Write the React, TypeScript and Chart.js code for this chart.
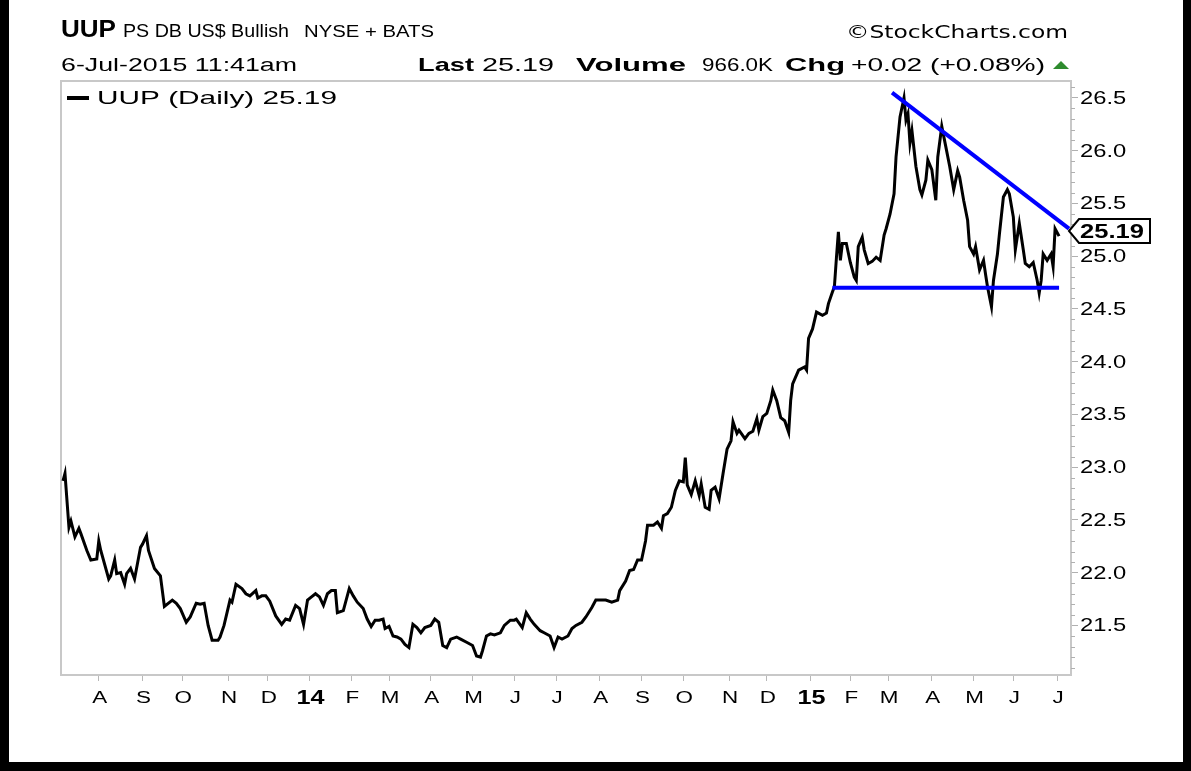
import React, { useEffect, useRef } from "react";
import { Chart, registerables } from "chart.js";

Chart.register(...registerables);

// trading-day index (0 = 1 Aug 2013) and closing price
const dayIdx = [
  -18, -17, -15, -14, -12, -10, -9, -6, -4, -1, 0, 1, 5, 6, 8, 9, 11, 13, 14, 16, 18, 21, 22, 24, 25, 28, 31, 33, 37, 39,
  41, 44, 46, 49, 51, 53, 55, 57, 60, 61, 63, 66, 67, 69, 72, 74, 76, 79, 80, 82, 84, 86, 89, 92, 94, 96, 99, 101, 103, 105,
  107, 109, 111, 113, 115, 117, 119, 120, 123, 126, 128, 130, 133, 135, 137, 139, 141, 143, 144, 146, 148, 150, 152, 154, 156, 158, 160, 162, 164, 167,
  169, 171, 173, 175, 177, 180, 182, 185, 188, 190, 192, 193, 195, 197, 199, 202, 204, 207, 209, 210, 213, 215, 217, 219, 222, 224, 227, 229, 231, 233,
  236, 238, 240, 243, 245, 248, 250, 253, 255, 258, 261, 262, 265, 267, 269, 271, 273, 275, 276, 279, 281, 283, 284, 286, 288, 290, 292, 294, 295, 296,
  298, 300, 302, 303, 305, 307, 308, 310, 312, 314, 316, 318, 319, 321, 322, 325, 327, 329, 331, 332, 334, 336, 338, 339, 341, 343, 345, 347, 348, 349,
  352, 355, 356, 357, 359, 361, 364, 366, 367, 369, 370, 371, 372, 373, 374, 376, 378, 380, 381, 382, 384, 385, 387, 389, 391, 393, 395, 396, 398, 400,
  401, 403, 405, 406, 407, 408, 409, 411, 413, 414, 416, 417, 419, 421, 422, 424, 426, 428, 430, 432, 433, 435, 437, 438, 440, 441, 443, 445, 446, 447,
  449, 450, 452, 453, 455, 457, 458, 460, 461, 463, 465, 466, 468, 470, 472, 473, 474, 475, 477, 479, 480, 481, 483,
];
const closePrices = [
  22.87, 22.94, 22.43, 22.49, 22.34, 22.42, 22.37, 22.21, 22.12, 22.13, 22.3, 22.21, 21.94, 21.97, 22.12, 21.99, 22.0, 21.89, 21.99, 22.04, 21.94, 22.24, 22.27, 22.35, 22.21, 22.04, 21.97, 21.68, 21.74, 21.71,
  21.66, 21.53, 21.58, 21.71, 21.7, 21.71, 21.5, 21.36, 21.36, 21.39, 21.5, 21.74, 21.72, 21.89, 21.85, 21.8, 21.78, 21.83, 21.76, 21.78, 21.78, 21.73, 21.59, 21.51, 21.56, 21.55, 21.69, 21.66, 21.51, 21.74,
  21.77, 21.8, 21.77, 21.69, 21.8, 21.83, 21.83, 21.62, 21.64, 21.85, 21.78, 21.72, 21.66, 21.56, 21.49, 21.55, 21.55, 21.56, 21.47, 21.49, 21.4, 21.39, 21.37, 21.32, 21.29, 21.51, 21.48, 21.43, 21.48, 21.5,
  21.56, 21.53, 21.31, 21.29, 21.37, 21.39, 21.37, 21.34, 21.31, 21.21, 21.2, 21.26, 21.4, 21.42, 21.41, 21.43, 21.5, 21.55, 21.55, 21.56, 21.48, 21.62, 21.56, 21.51, 21.45, 21.43, 21.4, 21.29, 21.39, 21.37,
  21.4, 21.47, 21.5, 21.53, 21.58, 21.67, 21.74, 21.74, 21.74, 21.72, 21.74, 21.83, 21.92, 22.02, 22.03, 22.12, 22.12, 22.3, 22.45, 22.45, 22.48, 22.42, 22.54, 22.56, 22.62, 22.78, 22.87, 22.86, 23.09, 22.83,
  22.74, 22.87, 22.73, 22.84, 22.62, 22.6, 22.78, 22.81, 22.7, 22.94, 23.17, 23.25, 23.43, 23.32, 23.35, 23.27, 23.32, 23.34, 23.46, 23.35, 23.48, 23.51, 23.63, 23.73, 23.63, 23.47, 23.44, 23.33, 23.63, 23.79,
  23.92, 23.95, 23.92, 24.22, 24.31, 24.47, 24.44, 24.46, 24.55, 24.66, 24.71, 24.98, 25.23, 24.96, 25.12, 25.12, 24.94, 24.8, 24.77, 25.09, 25.18, 25.06, 24.93, 24.95, 24.99, 24.96, 25.2, 25.26, 25.4, 25.59,
  25.94, 26.32, 26.5, 26.29, 26.35, 26.07, 26.19, 25.85, 25.63, 25.58, 25.72, 25.91, 25.82, 25.53, 25.94, 26.23, 26.04, 25.85, 25.63, 25.81, 25.75, 25.53, 25.34, 25.09, 25.02, 25.09, 24.87, 24.96, 24.83, 24.71,
  24.52, 24.77, 25.02, 25.21, 25.56, 25.63, 25.59, 25.37, 25.06, 25.31, 25.06, 24.93, 24.9, 24.94, 24.77, 24.65, 24.77, 25.02, 24.96, 25.02, 24.9, 25.26, 25.19,
];

// trend lines drawn on the chart
const resistanceX = [399, 488];
const resistanceY = [26.55, 25.26];
const supportX = [369, 483];
const supportY = [24.7, 24.7];

// month ticks (trading-day index of month start) and their labels
const monthTickIdx = [0, 22, 42, 65, 85, 106, 127, 146, 167, 188, 209, 230, 252, 273, 294, 317, 336, 358, 378, 397, 419, 440, 460, 482];
const monthLabels = ["A", "S", "O", "N", "D", "14", "F", "M", "A", "M", "J", "J", "A", "S", "O", "N", "D", "15", "F", "M", "A", "M", "J", "J"];
const yearLabels = ["14", "15"];

const priceTicks = [21.5, 22.0, 22.5, 23.0, 23.5, 24.0, 24.5, 25.0, 25.5, 26.0, 26.5];

const symbol = "UUP";
const fundName = "PS DB US$ Bullish";
const exchange = "NYSE + BATS";
const timestamp = "6-Jul-2015 11:41am";
const lastPrice = "25.19";
const volume = "966.0K";
const change = "+0.02 (+0.08%)";
const legendText = "UUP (Daily) 25.19";
const credit = "\u00A9StockCharts.com";

const SANS = "'Liberation Sans', Arial, sans-serif";

// draws text horizontally stretched; width = explicit target width, or factor sx
function wideText(
  ctx: CanvasRenderingContext2D,
  text: string,
  font: string,
  x: number,
  y: number,
  opts: { w?: number; sx?: number; align?: "left" | "right" | "center" }
) {
  ctx.font = font;
  const nat = ctx.measureText(text).width;
  const s = opts.w ? opts.w / nat : opts.sx || 1;
  const full = nat * s;
  let left = x;
  if (opts.align === "right") left = x - full;
  else if (opts.align === "center") left = x - full / 2;
  ctx.save();
  ctx.translate(left, y);
  ctx.scale(s, 1);
  ctx.textAlign = "left";
  ctx.fillText(text, 0, 0);
  ctx.restore();
}

const decorPlugin = {
  id: "decor",
  beforeDraw(chart: any) {
    const ctx = chart.ctx;
    ctx.save();
    ctx.fillStyle = "#ffffff";
    ctx.fillRect(0, 0, chart.width, chart.height);
    ctx.restore();
  },
  beforeDatasetsDraw(chart: any) {
    const { ctx, chartArea } = chart;
    ctx.save();
    ctx.strokeStyle = "#c8c8c8";
    ctx.lineWidth = 2;
    ctx.strokeRect(chartArea.left, chartArea.top, chartArea.right - chartArea.left, chartArea.bottom - chartArea.top);
    ctx.restore();
  },
  afterDraw(chart: any) {
    const { ctx, chartArea } = chart;
    const yScale = chart.scales.y;
    const xScale = chart.scales.x;
    ctx.save();
    // minor ticks on the price axis
    ctx.strokeStyle = "#b0b0b0";
    ctx.lineWidth = 1;
    for (let k = 211; k <= 266; k++) {
      if (k % 5 === 0) continue;
      const py = Math.round(yScale.getPixelForValue(k / 10)) + 0.5;
      ctx.beginPath();
      ctx.moveTo(chartArea.right, py);
      ctx.lineTo(chartArea.right + 4, py);
      ctx.stroke();
    }

    ctx.fillStyle = "#000";
    // price axis labels
    ctx.textBaseline = "middle";
    for (const v of priceTicks) {
      const py = yScale.getPixelForValue(v);
      wideText(ctx, v.toFixed(1), "18px " + SANS, chartArea.right + 9, py + 1, { sx: 1.32 });
    }
    // month labels
    ctx.textBaseline = "alphabetic";
    monthTickIdx.forEach((d, i) => {
      const px = xScale.getPixelForValue(d);
      const lbl = monthLabels[i];
      if (yearLabels.includes(lbl)) {
        wideText(ctx, lbl, "bold 21px " + SANS, px + 1, 704, { sx: 1.2, align: "center" });
      } else {
        wideText(ctx, lbl, "16px " + SANS, px + 1, 703, { sx: 1.4, align: "center" });
      }
    });

    // legend
    ctx.fillRect(chartArea.left + 6, 96, 22, 4);
    ctx.textBaseline = "middle";
    wideText(ctx, legendText, "19px " + SANS, chartArea.left + 36, 99, { w: 240 });

    // header row 1
    ctx.textBaseline = "alphabetic";
    wideText(ctx, symbol, "bold 23px " + SANS, 61, 37, { w: 55 });
    wideText(ctx, fundName, "18px " + SANS, 123, 37, { w: 166 });
    wideText(ctx, exchange, "16px " + SANS, 304, 37, { w: 130 });
    wideText(ctx, credit, "18px 'DejaVu Sans', sans-serif", 1068, 38, { w: 222, align: "right" });

    // header row 2
    wideText(ctx, timestamp, "18px " + SANS, 61, 71, { w: 236 });
    wideText(ctx, "Last", "bold 19px " + SANS, 418, 71, { w: 56 });
    wideText(ctx, lastPrice, "18px " + SANS, 482, 71, { w: 72 });
    wideText(ctx, "Volume", "bold 19px " + SANS, 576, 71, { w: 110 });
    wideText(ctx, volume, "18px " + SANS, 702, 71, { w: 71 });
    wideText(ctx, "Chg", "bold 19px " + SANS, 785, 71, { w: 60 });
    wideText(ctx, change, "18px " + SANS, 851, 71, { w: 194 });
    ctx.fillStyle = "#2e8b2e";
    ctx.beginPath();
    ctx.moveTo(1053, 69);
    ctx.lineTo(1069, 69);
    ctx.lineTo(1061, 61);
    ctx.closePath();
    ctx.fill();

    // last price tag
    const last = closePrices[closePrices.length - 1];
    const ly = Math.round(yScale.getPixelForValue(last)) - 5;
    const x0 = chartArea.right - 2;
    ctx.beginPath();
    ctx.moveTo(x0, ly);
    ctx.lineTo(x0 + 10, ly - 12);
    ctx.lineTo(1150, ly - 12);
    ctx.lineTo(1150, ly + 12);
    ctx.lineTo(x0 + 10, ly + 12);
    ctx.closePath();
    ctx.fillStyle = "#fff";
    ctx.fill();
    ctx.strokeStyle = "#000";
    ctx.lineWidth = 2;
    ctx.stroke();
    ctx.fillStyle = "#000";
    ctx.textBaseline = "middle";
    wideText(ctx, last.toFixed(2), "bold 20px " + SANS, x0 + 11, ly + 1, { w: 64 });

    // outer frame
    ctx.fillStyle = "#000";
    ctx.fillRect(0, 0, 9, chart.height);
    ctx.fillRect(1183, 0, chart.width - 1183, chart.height);
    ctx.fillRect(0, 762, chart.width, chart.height - 762);
    ctx.restore();
  },
};

export default function App() {
  const canvasRef = useRef<HTMLCanvasElement | null>(null);

  useEffect(() => {
    document.body.style.margin = "0";
    const canvas = canvasRef.current;
    if (!canvas) return;
    const chart = new Chart(canvas, {
      type: "line",
      data: {
        datasets: [
          {
            label: "UUP",
            data: dayIdx.map((d, i) => ({ x: d, y: closePrices[i] })),
            borderColor: "#000000",
            borderWidth: 3,
            pointRadius: 0,
            tension: 0,
            order: 2,
          },
          {
            label: "resistance",
            data: resistanceX.map((d, i) => ({ x: d, y: resistanceY[i] })),
            borderColor: "#0000ff",
            borderWidth: 4,
            pointRadius: 0,
            order: 1,
          },
          {
            label: "support",
            data: supportX.map((d, i) => ({ x: d, y: supportY[i] })),
            borderColor: "#0000ff",
            borderWidth: 4,
            pointRadius: 0,
            order: 1,
          },
        ],
      },
      options: {
        responsive: false,
        animation: false,
        devicePixelRatio: 1,
        layout: { padding: { left: 61, top: 81, right: 0, bottom: 0 } },
        plugins: { legend: { display: false }, tooltip: { enabled: false }, title: { display: false } },
        scales: {
          x: {
            type: "linear",
            min: -19,
            max: 489,
            afterBuildTicks: (scale: any) => {
              scale.ticks = monthTickIdx.map((v) => ({ value: v }));
            },
            afterFit: (scale: any) => {
              scale.height = 96;
            },
            grid: { drawOnChartArea: false, drawTicks: true, tickLength: 6, color: "#b8b8b8", lineWidth: 1 },
            border: { display: false },
            ticks: { display: false, autoSkip: false, maxRotation: 0 },
          },
          y: {
            type: "linear",
            position: "right",
            min: 21.03,
            max: 26.66,
            afterBuildTicks: (scale: any) => {
              scale.ticks = priceTicks.map((v) => ({ value: v }));
            },
            afterFit: (scale: any) => {
              scale.width = 120;
            },
            grid: { drawOnChartArea: false, drawTicks: true, tickLength: 7, color: "#b0b0b0", lineWidth: 1 },
            border: { display: false },
            ticks: { display: false },
          },
        },
      },
      plugins: [decorPlugin],
    });
    return () => chart.destroy();
  }, []);

  return (
    <div style={{ position: "absolute", left: 0, top: 0, width: 1191, height: 771, background: "#fff" }}>
      <canvas ref={canvasRef} width={1191} height={771} style={{ display: "block", width: 1191, height: 771 }} />
    </div>
  );
}
